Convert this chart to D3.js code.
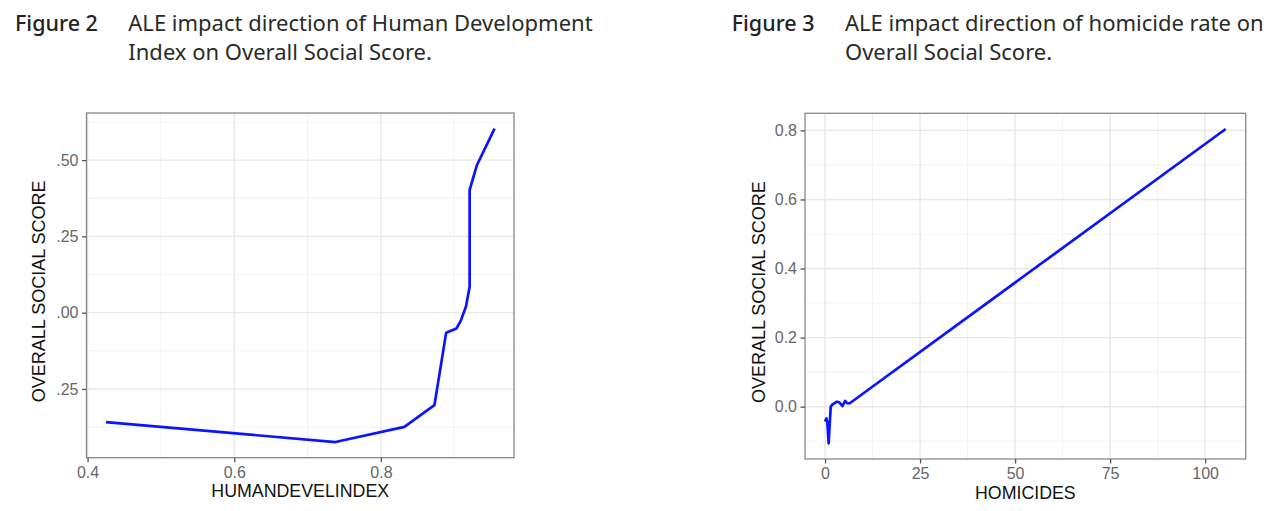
<!DOCTYPE html>
<html>
<head>
<meta charset="utf-8">
<script src="https://cdn.jsdelivr.net/npm/d3@7"></script>
<style>
  body { margin: 0; background: #fff; }
  svg { display: block; }
</style>
</head>
<body>
<svg id="chart"></svg>
<script>
// Figure 2: ALE of Human Development Index
const hdiX = [0.425, 0.738, 0.832, 0.873, 0.889, 0.903, 0.909, 0.916, 0.921, 0.921, 0.931, 0.955];
const hdiY = [-0.359, -0.424, -0.3745, -0.303, -0.0655, -0.052, -0.026, 0.020, 0.085, 0.402, 0.484, 0.603];
const hdiXTicks = [0.4, 0.6, 0.8];
const hdiXMinor = [0.5, 0.7, 0.9];
const hdiYTicks = [-0.25, 0, 0.25, 0.5];
const hdiYMinor = [-0.375, -0.125, 0.125, 0.375, 0.625];

// Figure 3: ALE of homicide rate
const homX = [0, 0.35, 0.6, 0.95, 1.5, 1.8, 3.15, 3.8, 4.6, 5.3, 5.8, 6.5, 105.4];
const homY = [-0.043, -0.034, -0.045, -0.106, 0.0, 0.005, 0.0145, 0.012, 0.002, 0.0165, 0.01, 0.01, 0.804];
const homXTicks = [0, 25, 50, 75, 100];
const homXMinor = [12.5, 37.5, 62.5, 87.5];
const homYTicks = [0, 0.2, 0.4, 0.6, 0.8];
const homYMinor = [-0.1, 0.1, 0.3, 0.5, 0.7];

const width = 1280;
const height = 511;

const svg = d3.select('#chart')
  .attr('width', width)
  .attr('height', height);

svg.append('rect').attr('width', width).attr('height', height).attr('fill', '#fff');

const capFont = '"Noto Sans", "Open Sans", sans-serif';
const axisFont = '"Liberation Sans", Arial, sans-serif';

// ggplot style padding of 5% around the data
function expand(vals) {
  const [lo, hi] = d3.extent(vals);
  const pad = (hi - lo) * 0.05;
  return [lo - pad, hi + pad];
}

function caption(x, label, lines) {
  svg.append('text')
    .attr('x', x)
    .attr('y', 30.7)
    .attr('font-family', capFont)
    .attr('font-size', '21.5px')
    .attr('font-weight', 500)
    .attr('fill', '#222')
    .text(label);
  lines.forEach((line, i) => {
    svg.append('text')
      .attr('x', x + 113.3)
      .attr('y', 30.7 + i * 29.6)
      .attr('font-family', capFont)
      .attr('font-size', '22px')
      .attr('fill', '#2a2a2a')
      .text(line);
  });
}

function panel(cfg) {
  const { box, xs, ys } = cfg;
  const x = d3.scaleLinear().domain(expand(xs)).range([box.left, box.right]);
  const y = d3.scaleLinear().domain(expand(ys)).range([box.bottom, box.top]);
  const g = svg.append('g');

  // grid
  g.selectAll('line.minx').data(cfg.xMinor).join('line')
    .attr('x1', d => x(d)).attr('x2', d => x(d))
    .attr('y1', box.top).attr('y2', box.bottom)
    .attr('stroke', '#f2f2f2').attr('stroke-width', 1);
  g.selectAll('line.miny').data(cfg.yMinor).join('line')
    .attr('y1', d => y(d)).attr('y2', d => y(d))
    .attr('x1', box.left).attr('x2', box.right)
    .attr('stroke', '#f2f2f2').attr('stroke-width', 1);
  g.selectAll('line.majx').data(cfg.xTicks).join('line')
    .attr('x1', d => x(d)).attr('x2', d => x(d))
    .attr('y1', box.top).attr('y2', box.bottom)
    .attr('stroke', '#e8e8e8').attr('stroke-width', 1.4);
  g.selectAll('line.majy').data(cfg.yTicks).join('line')
    .attr('y1', d => y(d)).attr('y2', d => y(d))
    .attr('x1', box.left).attr('x2', box.right)
    .attr('stroke', '#e8e8e8').attr('stroke-width', 1.4);

  // line
  const pts = xs.map((v, i) => [v, ys[i]]);
  g.append('path')
    .datum(pts)
    .attr('fill', 'none')
    .attr('stroke', '#0a14ff')
    .attr('stroke-width', 2.7)
    .attr('stroke-linejoin', 'round')
    .attr('d', d3.line().x(d => x(d[0])).y(d => y(d[1])));

  // panel border
  g.append('rect')
    .attr('x', box.left).attr('y', box.top)
    .attr('width', box.right - box.left).attr('height', box.bottom - box.top)
    .attr('fill', 'none').attr('stroke', '#888').attr('stroke-width', 1.3);

  // axes
  const xAxis = g.append('g')
    .attr('transform', `translate(0,${box.bottom})`)
    .call(d3.axisBottom(x).tickValues(cfg.xTicks).tickFormat(cfg.xFmt).tickSize(4.5).tickPadding(4.5));
  const yAxis = g.append('g')
    .attr('transform', `translate(${box.left},0)`)
    .call(d3.axisLeft(y).tickValues(cfg.yTicks).tickFormat(cfg.yFmt).tickSize(4.5).tickPadding(3.5));
  [xAxis, yAxis].forEach(a => {
    a.select('.domain').remove();
    a.selectAll('.tick line').attr('stroke', '#555').attr('stroke-width', 1.3);
    a.selectAll('.tick text')
      .attr('fill', '#666')
      .attr('font-family', axisFont)
      .attr('font-size', '16px');
  });
  if (cfg.clipLeft) {
    // the source image cuts the left side of these labels off
    const id = 'clip' + Math.round(box.left);
    svg.append('clipPath').attr('id', id)
      .append('rect')
      .attr('x', cfg.clipLeft - box.left).attr('y', 0)
      .attr('width', 200).attr('height', height);
    yAxis.attr('clip-path', `url(#${id})`);
  }

  // axis titles
  g.append('text')
    .attr('x', (box.left + box.right) / 2)
    .attr('y', box.bottom + 39.5)
    .attr('text-anchor', 'middle')
    .attr('font-family', axisFont)
    .attr('font-size', '17.8px')
    .attr('fill', '#111')
    .text(cfg.xTitle);
  g.append('text')
    .attr('transform', `translate(${cfg.yTitleX},${(box.top + box.bottom) / 2 + 6}) rotate(-90)`)
    .attr('text-anchor', 'middle')
    .attr('font-family', axisFont)
    .attr('font-size', '18px')
    .attr('fill', '#111')
    .text('OVERALL SOCIAL SCORE');
}

caption(15, 'Figure 2', ['ALE impact direction of Human Development', 'Index on Overall Social Score.']);
caption(731.7, 'Figure 3', ['ALE impact direction of homicide rate on', 'Overall Social Score.']);

panel({
  box: { left: 86.5, right: 514, top: 113, bottom: 457.7 },
  xs: hdiX, ys: hdiY,
  xTicks: hdiXTicks, xMinor: hdiXMinor,
  yTicks: hdiYTicks, yMinor: hdiYMinor,
  xFmt: d3.format('.1f'), yFmt: d3.format('.2f'),
  xTitle: 'HUMANDEVELINDEX',
  yTitleX: 45,
  clipLeft: 56
});

panel({
  box: { left: 805, right: 1245.7, top: 113.3, bottom: 459 },
  xs: homX, ys: homY,
  xTicks: homXTicks, xMinor: homXMinor,
  yTicks: homYTicks, yMinor: homYMinor,
  xFmt: d3.format('d'), yFmt: d3.format('.1f'),
  xTitle: 'HOMICIDES',
  yTitleX: 764.5
});
</script>
</body>
</html>
